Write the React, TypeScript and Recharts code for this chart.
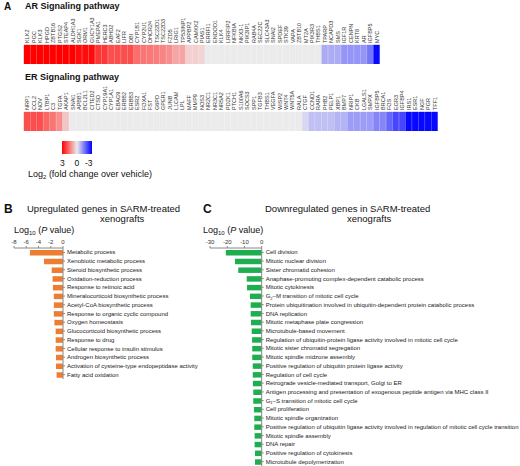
import React from 'react';
import { BarChart, Bar, XAxis, YAxis, Cell } from 'recharts';

// A: heat strips, log2 fold change over vehicle
const arGenes = [
  'KLK2', 'PGC', 'KLK3', 'HPGD', 'ZBTB16', 'PTGS2', 'STEAP4', 'ALDH1A3', 'SGK1', 'ORM1',
  'GUCY1A3', 'PMEPA1', 'HERC3', 'ABHD2', 'EAF2', 'LIFR', 'DBI', 'CYP1B1', 'CYP2U1', 'DHCR24',
  'TSC22D1', 'TSC22D3', 'FZD5', 'LRIG1', 'TP53INP1', 'APPBP2', 'CAMKK2', 'PIAS1', 'ERRFI1', 'ENDOD1',
  'KLK4', 'LRRFIP2', 'NFKBIA', 'NKX3-1', 'PIK3IP1', 'RAB4A', 'SEC22C', 'SLC43A3', 'SNAI2', 'SPDEF',
  'STK39', 'VAPA', 'ZBTB10', 'MT2A', 'PIK3R3', 'THBS1', 'TPARP', 'NCAPD3', 'SMS', 'IGF1R',
  'CENPN', 'KRT8', 'AR', 'IGFBP5', 'MYC',
];
const arFold = [
  3, 3, 3, 3, 3, 3, 3, 3, 2.85, 2.85,
  2.85, 2.3, 2.3, 2.0, 2.0, 2.0, 2.0, 1.6, 1.5, 1.45,
  1.4, 1.3, 1.2, 0.9, 0.9, 0.35, 0.35, 0.3, 0, 0,
  0, 0, 0, 0, 0, 0, 0, 0, 0, 0,
  0, 0, 0, 0, 0, 0, -0.8, -0.8, -0.8, -1.1,
  -1.1, -1.1, -1.1, -1.5, -2.9,
];

const erGenes = [
  'NRP1', 'CCL2', 'NOV', 'LTBP1', 'C3', 'TGFA', 'AKAP1', 'SNAI1', 'APBB1', 'BCL2L1',
  'CITED2', 'CTSD', 'CYP19A1', 'CYP1A1', 'EBAG9', 'ERBB2', 'ERBB3', 'ESR2', 'FOXA1', 'FST',
  'G6PD', 'GPER1', 'JUNB', 'L1CAM', 'LPL', 'MAFF', 'MMP9', 'NOS3', 'NR2C1', 'NR3C1',
  'NR5A2', 'PDZK1', 'PTCH1', 'S100A6', 'SOCS3', 'SPP1', 'TGFB3', 'THBS1', 'VEGFA', 'WISP2',
  'WNT4', 'WNT5A', 'RALA', 'CTGF', 'CCND1', 'RARA', 'PHB2', 'PELP1', 'XBP1', 'BMP7',
  'NRIP1', 'CKB', 'LGALS1', 'SMPX', 'IGFBP5', 'BRCA1', 'FOS', 'EGR3', 'IGFBP4', 'IRS1',
  'ESR1', 'NGF', 'PGR', 'TFF1',
];
const erFold = [
  2.0, 2.0, 2.0, 1.7, 1.5, 1.2, 0.5, 0, 0, 0,
  0, 0, 0, 0, 0, 0, 0, 0, 0, 0,
  0, 0, 0, 0, 0, 0, 0, 0, 0, 0,
  0, 0, 0, 0, 0, 0, 0, 0, 0, 0,
  0, 0, 0, -0.25, -0.55, -0.55, -0.55, -0.55, -0.7, -0.7,
  -1.0, -1.0, -1.0, -1.0, -1.3, -1.3, -1.7, -2.1, -2.1, -2.9,
  -2.9, -2.9, -2.9, -2.9,
];

const legendStops = [3, 1.5, 0, -1.5, -3];
const legendLabels = ['3', '0', '-3'];

// B: upregulated GO terms
const upTerms = [
  'Metabolic process',
  'Xenobiotic metabolic process',
  'Steroid biosynthetic process',
  'Oxidation-reduction process',
  'Response to retinoic acid',
  'Mineralocorticoid biosynthetic process',
  'Acetyl-CoA biosynthetic process',
  'Response to organic cyclic compound',
  'Oxygen homeostasis',
  'Glucocorticoid biosynthetic process',
  'Response to drug',
  'Cellular response to insulin stimulus',
  'Androgen biosynthetic process',
  'Activation of cysteine-type endopeptidase activity',
  'Fatty acid oxidation',
];
const upLogP = [-5.4, -3.1, -1.85, -1.7, -1.65, -1.5, -1.5, -1.5, -1.4, -1.2, -1.2, -1.2, -1.15, -1.15, -1.05];
const upTicks = [-8, -6, -4, -2, 0];

// C: downregulated GO terms
const downTerms = [
  'Cell division',
  'Mitotic nuclear division',
  'Sister chromatid cohesion',
  'Anaphase-promoting complex-dependent catabolic process',
  'Mitotic cytokinesis',
  'G2–M transition of mitotic cell cycle',
  'Protein ubiquitination involved in ubiquitin-dependent protein catabolic process',
  'DNA replication',
  'Mitotic metaphase plate congression',
  'Microtubule-based movement',
  'Regulation of ubiquitin-protein ligase activity involved in mitotic cell cycle',
  'Mitotic sister chromatid segregation',
  'Mitotic spindle midzone assembly',
  'Positive regulation of ubiquitin protein ligase activity',
  'Regulation of cell cycle',
  'Retrograde vesicle-mediated transport, Golgi to ER',
  'Antigen processing and presentation of exogenous peptide antigen via MHC class II',
  'G1–S transition of mitotic cell cycle',
  'Cell proliferation',
  'Mitotic spindle organization',
  'Positive regulation of ubiquitin ligase activity involved in regulation of mitotic cell cycle transition',
  'Mitotic spindle assembly',
  'DNA repair',
  'Positive regulation of cytokinesis',
  'Microtubule depolymerization',
];
const downLogP = [
  -20.8, -15.5, -13.6, -8.7, -8.5, -6.8, -6.4, -6.4, -6.2, -5.8,
  -5.6, -5.5, -5.5, -5.2, -5.2, -5.1, -4.9, -4.9, -4.5, -4.3,
  -4.3, -4.1, -4.1, -3.9, -3.9,
];
const downTicks = [-30, -20, -10, 0];

const heatColor = (v: number) => {
  const t = Math.min(1, Math.abs(v) / 3);
  const base = 235;
  let r, g, b;
  if (v >= 0) {
    r = base + (255 - base) * Math.sqrt(t);
    g = b = base * (1 - t);
  } else {
    r = g = base * (1 - t);
    b = base + (255 - base) * Math.sqrt(t);
  }
  return `rgb(${Math.round(r)},${Math.round(g)},${Math.round(b)})`;
};

const GeneTick = (props: any) => {
  const { x, y, payload } = props;
  return (
    <text transform={`translate(${x},${y}) rotate(-90)`} fontSize={5.5} fill="#333" textAnchor="start" dy="0.36em">
      {payload.value}
    </text>
  );
};

const TermTick = (props: any) => {
  const { x, y, payload } = props;
  const m = /^G(\d)(.*)$/.exec(payload.value);
  return (
    <text x={x} y={y} dy="0.35em" fontSize={6} fill="#222" textAnchor="start">
      {m ? (
        <>
          <tspan>G</tspan>
          <tspan fontSize={4} dy={1.5}>{m[1]}</tspan>
          <tspan dy={-1.5}>{m[2]}</tspan>
        </>
      ) : payload.value}
    </text>
  );
};

const HeatStrip = ({ genes, fold, width }: { genes: string[]; fold: number[]; width: number }) => {
  const data = genes.map((g, i) => ({ gene: g, fold: fold[i], cell: 1 }));
  return (
    <BarChart width={width} height={64} data={data} margin={{ top: 0, right: 20, bottom: 0, left: 24 }} barCategoryGap={0}>
      <XAxis dataKey="gene" orientation="top" height={45} interval={0} tickLine={false} axisLine={false}
        tickSize={0} tickMargin={2} tick={<GeneTick />} />
      <YAxis hide domain={[0, 1]} />
      <Bar dataKey="cell" isAnimationActive={false}>
        {data.map((d, i) => (
          <Cell key={i} fill={heatColor(d.fold)} stroke={heatColor(d.fold)} strokeWidth={0.4} />
        ))}
      </Bar>
    </BarChart>
  );
};

const GoChart = ({ terms, logP, ticks, color, width, height, plotWidth }:
  { terms: string[]; logP: number[]; ticks: number[]; color: string; width: number; height: number; plotWidth: number }) => {
  const data = terms.map((t, i) => ({ term: t, logP: logP[i] }));
  return (
    <BarChart layout="vertical" width={width} height={height} data={data}
      margin={{ top: 0, right: 0, bottom: 0, left: 14 }}>
      <XAxis type="number" orientation="top" domain={[ticks[0], 0]} ticks={ticks} height={13} interval={0}
        tickSize={2} tickMargin={2} axisLine={{ stroke: '#888' }} tickLine={{ stroke: '#888' }}
        tick={{ fontSize: 6, fill: '#333' }} />
      <YAxis type="category" dataKey="term" orientation="right" width={width - 14 - plotWidth} interval={0}
        tickSize={2} tickMargin={2} axisLine={{ stroke: '#888' }} tickLine={{ stroke: '#888' }} tick={<TermTick />} />
      <Bar dataKey="logP" fill={color} barSize={5.5} isAnimationActive={false} />
    </BarChart>
  );
};

const abs = (left: number, top: number, extra: React.CSSProperties = {}): React.CSSProperties => ({
  position: 'absolute', left, top, lineHeight: 1, whiteSpace: 'nowrap', ...extra,
});

const LogP = () => (
  <span>Log<sub style={{ fontSize: 6, verticalAlign: -2 }}>10</sub> (<i>P</i> value)</span>
);

export default function App() {
  return (
    <div style={{
      position: 'absolute', left: 0, top: 0, width: 520, height: 466, overflow: 'hidden', background: '#fff',
      fontFamily: '"Liberation Sans", Arial, Helvetica, sans-serif', color: '#111',
    }}>
      <div style={abs(4, 2, { fontSize: 10, fontWeight: 'bold' })}>A</div>
      <div style={abs(25, 1.5, { fontSize: 9, fontWeight: 'bold' })}>AR Signaling pathway</div>
      <div style={abs(0, 0)}>
        <HeatStrip genes={arGenes} fold={arFold} width={400} />
      </div>

      <div style={abs(25, 72.5, { fontSize: 9, fontWeight: 'bold' })}>ER Signaling pathway</div>
      <div style={abs(0, 67)}>
        <HeatStrip genes={erGenes} fold={erFold} width={458} />
      </div>

      <div style={abs(62, 141, {
        width: 30, height: 13,
        background: `linear-gradient(to right, ${legendStops.map(heatColor).join(', ')})`,
      })} />
      <div style={abs(60, 159, { fontSize: 8.5 })}>{legendLabels[0]}</div>
      <div style={abs(74.5, 159, { fontSize: 8.5 })}>{legendLabels[1]}</div>
      <div style={abs(85, 159, { fontSize: 8.5 })}>{legendLabels[2]}</div>
      <div style={abs(28, 169.5, { fontSize: 9 })}>
        Log<sub style={{ fontSize: 6, verticalAlign: -2 }}>2</sub> (fold change over vehicle)
      </div>

      <div style={abs(4, 202.5, { fontSize: 12, fontWeight: 'bold' })}>B</div>
      <div style={abs(27, 203.5, { fontSize: 9.5 })}>Upregulated genes in SARM-treated</div>
      <div style={abs(100, 214, { fontSize: 9.5 })}>xenografts</div>
      <div style={abs(14, 225.5, { fontSize: 9 })}><LogP /></div>
      <div style={abs(0, 235)}>
        <GoChart terms={upTerms} logP={upLogP} ticks={upTicks} color="#ed7d31" width={210} height={144} plotWidth={49} />
      </div>

      <div style={abs(203, 202.5, { fontSize: 12, fontWeight: 'bold' })}>C</div>
      <div style={abs(265, 203.5, { fontSize: 9.5 })}>Downregulated genes in SARM-treated</div>
      <div style={abs(347, 214, { fontSize: 9.5 })}>xenografts</div>
      <div style={abs(203, 225.5, { fontSize: 9 })}><LogP /></div>
      <div style={abs(196, 235)}>
        <GoChart terms={downTerms} logP={downLogP} ticks={downTicks} color="#1fae4f" width={324} height={231} plotWidth={51.7} />
      </div>
    </div>
  );
}
